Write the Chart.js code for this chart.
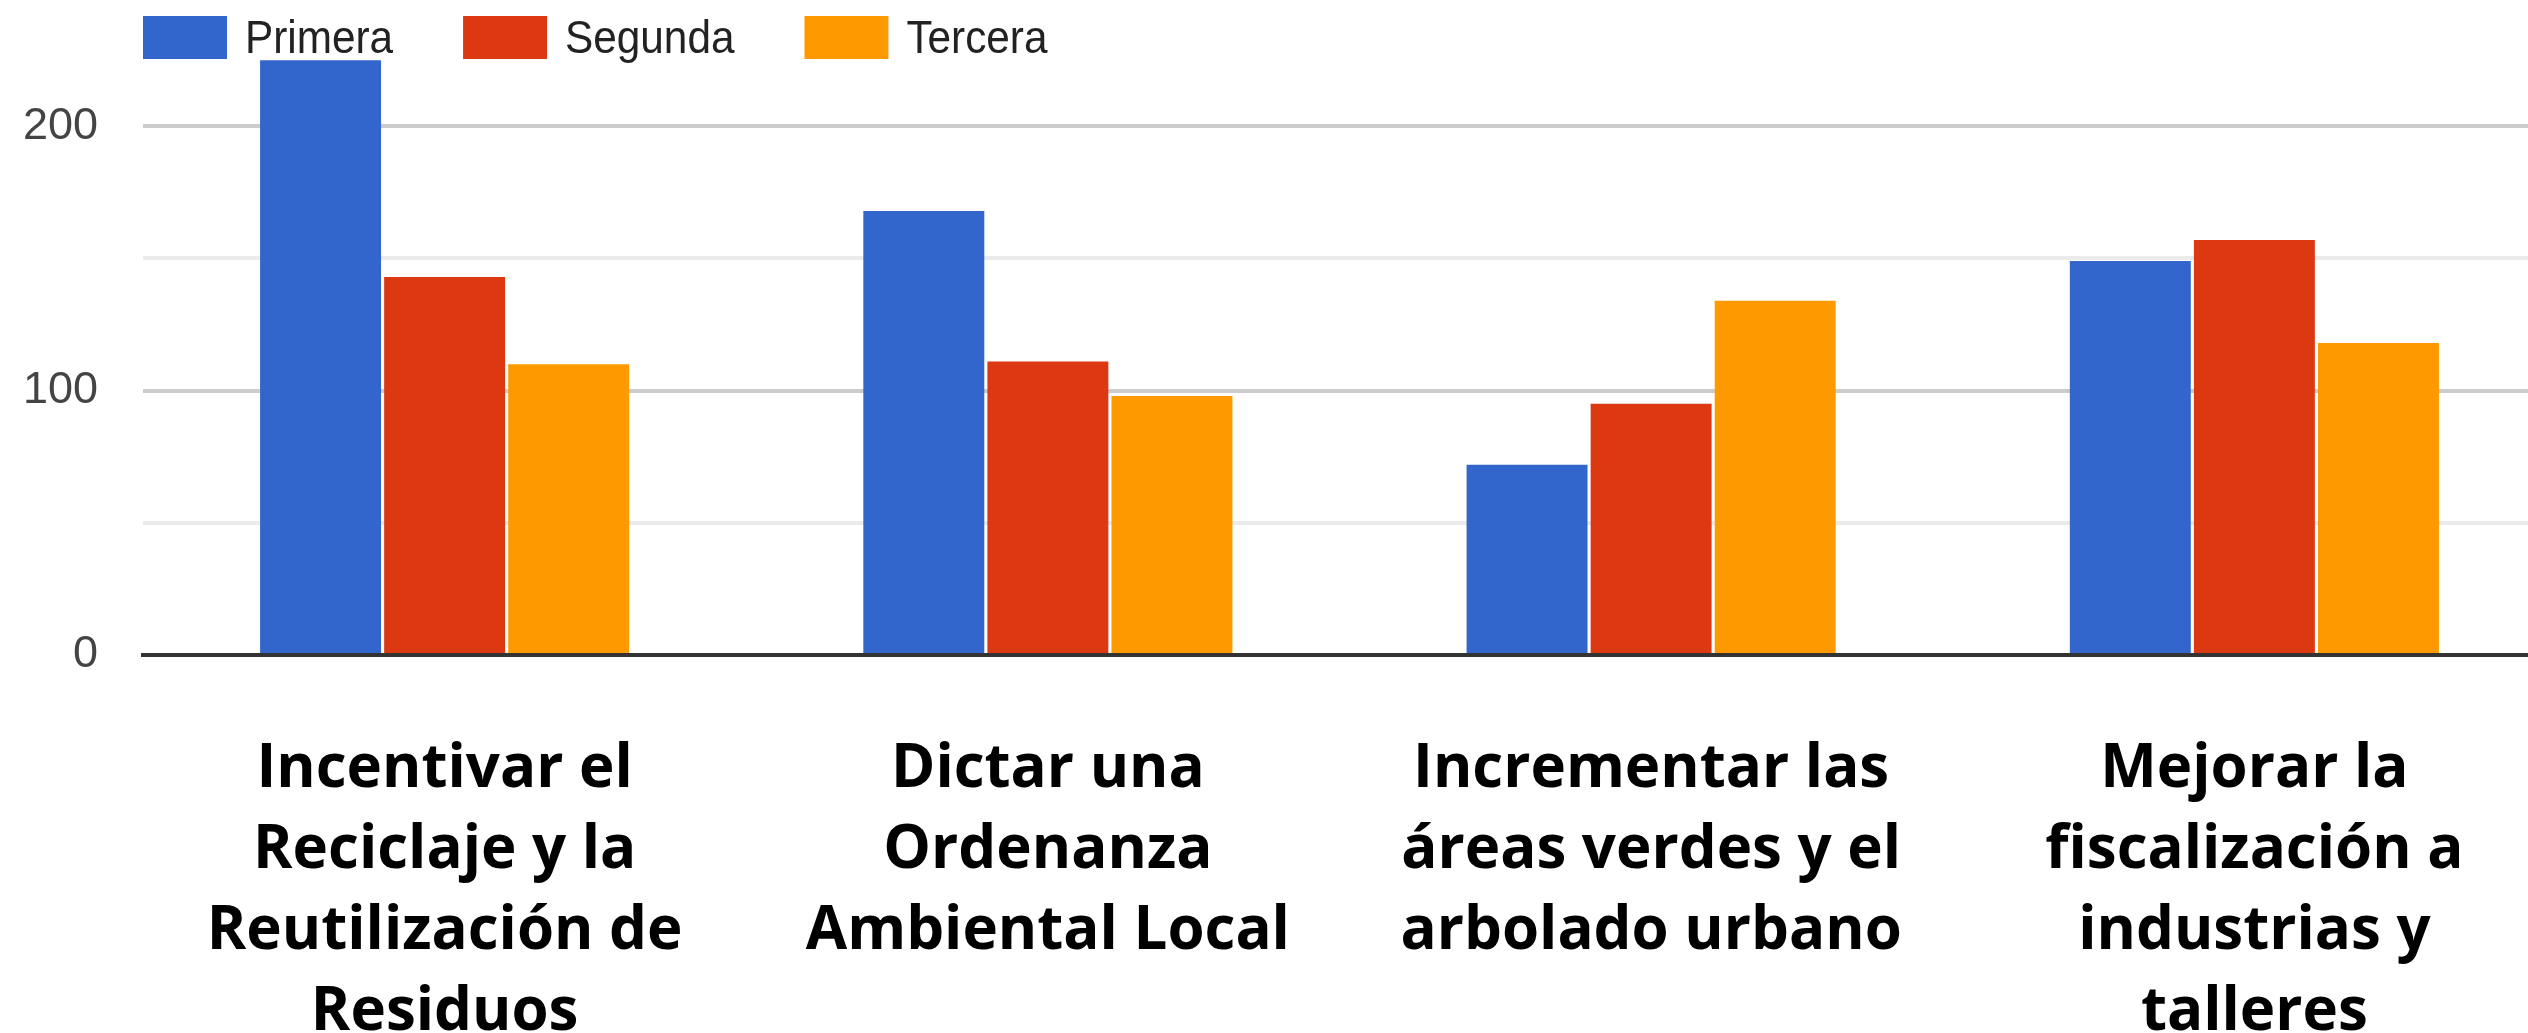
<!DOCTYPE html>
<html>
<head>
<meta charset="utf-8">
<script src="https://cdn.jsdelivr.net/npm/chart.js@4.4.1/dist/chart.umd.min.js"></script>
<style>
  html, body { margin: 0; padding: 0; background: #fff; overflow: hidden; }
  #wrap { width: 2556px; height: 1033px; }
</style>
</head>
<body>
<div id="wrap"><canvas id="myChart" width="2556" height="1033"></canvas></div>
<script>
// categorias (etiquetas en varias lineas)
const categories = [
  ['Incentivar el', 'Reciclaje y la', 'Reutilización de', 'Residuos'],
  ['Dictar una', 'Ordenanza', 'Ambiental Local'],
  ['Incrementar las', 'áreas verdes y el', 'arbolado urbano'],
  ['Mejorar la', 'fiscalización a', 'industrias y', 'talleres']
];
const seriesNames = ['Primera', 'Segunda', 'Tercera'];
const primera = [225, 168, 72, 149];
const segunda = [143, 111, 95, 157];
const tercera = [110, 98, 134, 118];
const colors = ['#3366cc', '#dc3912', '#ff9900'];

// leyenda arriba, dibujada a mano para controlar posiciones
const topLegend = {
  id: 'topLegend',
  afterDraw(chart) {
    const ctx = chart.ctx;
    ctx.save();
    ctx.font = '47px "Liberation Sans", Arial, sans-serif';
    ctx.textBaseline = 'alphabetic';
    let x = 143;
    chart.data.datasets.forEach(ds => {
      ctx.fillStyle = ds.backgroundColor;
      ctx.fillRect(x, 16, 84, 43);
      const tx = x + 102;
      const w = ctx.measureText(ds.label).width * 0.9;
      ctx.save();
      ctx.translate(tx, 53);
      ctx.scale(0.9, 1);
      ctx.fillStyle = '#222';
      ctx.fillText(ds.label, 0, 0);
      ctx.restore();
      x = tx + w + 70;
    });
    ctx.restore();
  }
};

const ctx = document.getElementById('myChart').getContext('2d');
new Chart(ctx, {
  type: 'bar',
  data: {
    labels: categories,
    datasets: [
      { label: seriesNames[0], data: primera, backgroundColor: colors[0] },
      { label: seriesNames[1], data: segunda, backgroundColor: colors[1] },
      { label: seriesNames[2], data: tercera, backgroundColor: colors[2] }
    ]
  },
  options: {
    responsive: false,
    animation: false,
    devicePixelRatio: 1,
    layout: { autoPadding: false, padding: { top: 47, left: 0, right: 0, bottom: 0 } },
    datasets: {
      bar: { categoryPercentage: 0.617, barPercentage: 0.975 }
    },
    plugins: {
      legend: { display: false },
      tooltip: { enabled: false }
    },
    scales: {
      x: {
        z: 1,
        grid: { display: false },
        border: { display: true, color: '#333', width: 4 },
        ticks: {
          padding: 67,
          color: '#000',
          maxRotation: 0,
          autoSkip: false,
          font: { family: '"Open Sans", sans-serif', size: 60, weight: 'bold', lineHeight: 1.345 }
        },
        afterFit(scale) { scale.height = 378; }
      },
      y: {
        min: 0,
        max: 230,
        border: { display: false },
        grid: {
          drawTicks: false,
          lineWidth: 4,
          color(c) {
            const v = c.tick.value;
            if (v === 0 || v === 230) return 'rgba(0,0,0,0)';
            return v % 100 === 0 ? '#cccccc' : '#ebebeb';
          }
        },
        ticks: {
          stepSize: 50,
          padding: 45,
          color: '#444',
          font: { family: '"Liberation Sans", Arial, sans-serif', size: 45 },
          callback(v) { return v % 100 === 0 ? v : ''; }
        },
        afterFit(scale) {
          scale.width = 143;
          scale.paddingTop = 0;
          scale.paddingBottom = 0;
        }
      }
    }
  },
  plugins: [topLegend]
});
</script>
</body>
</html>
